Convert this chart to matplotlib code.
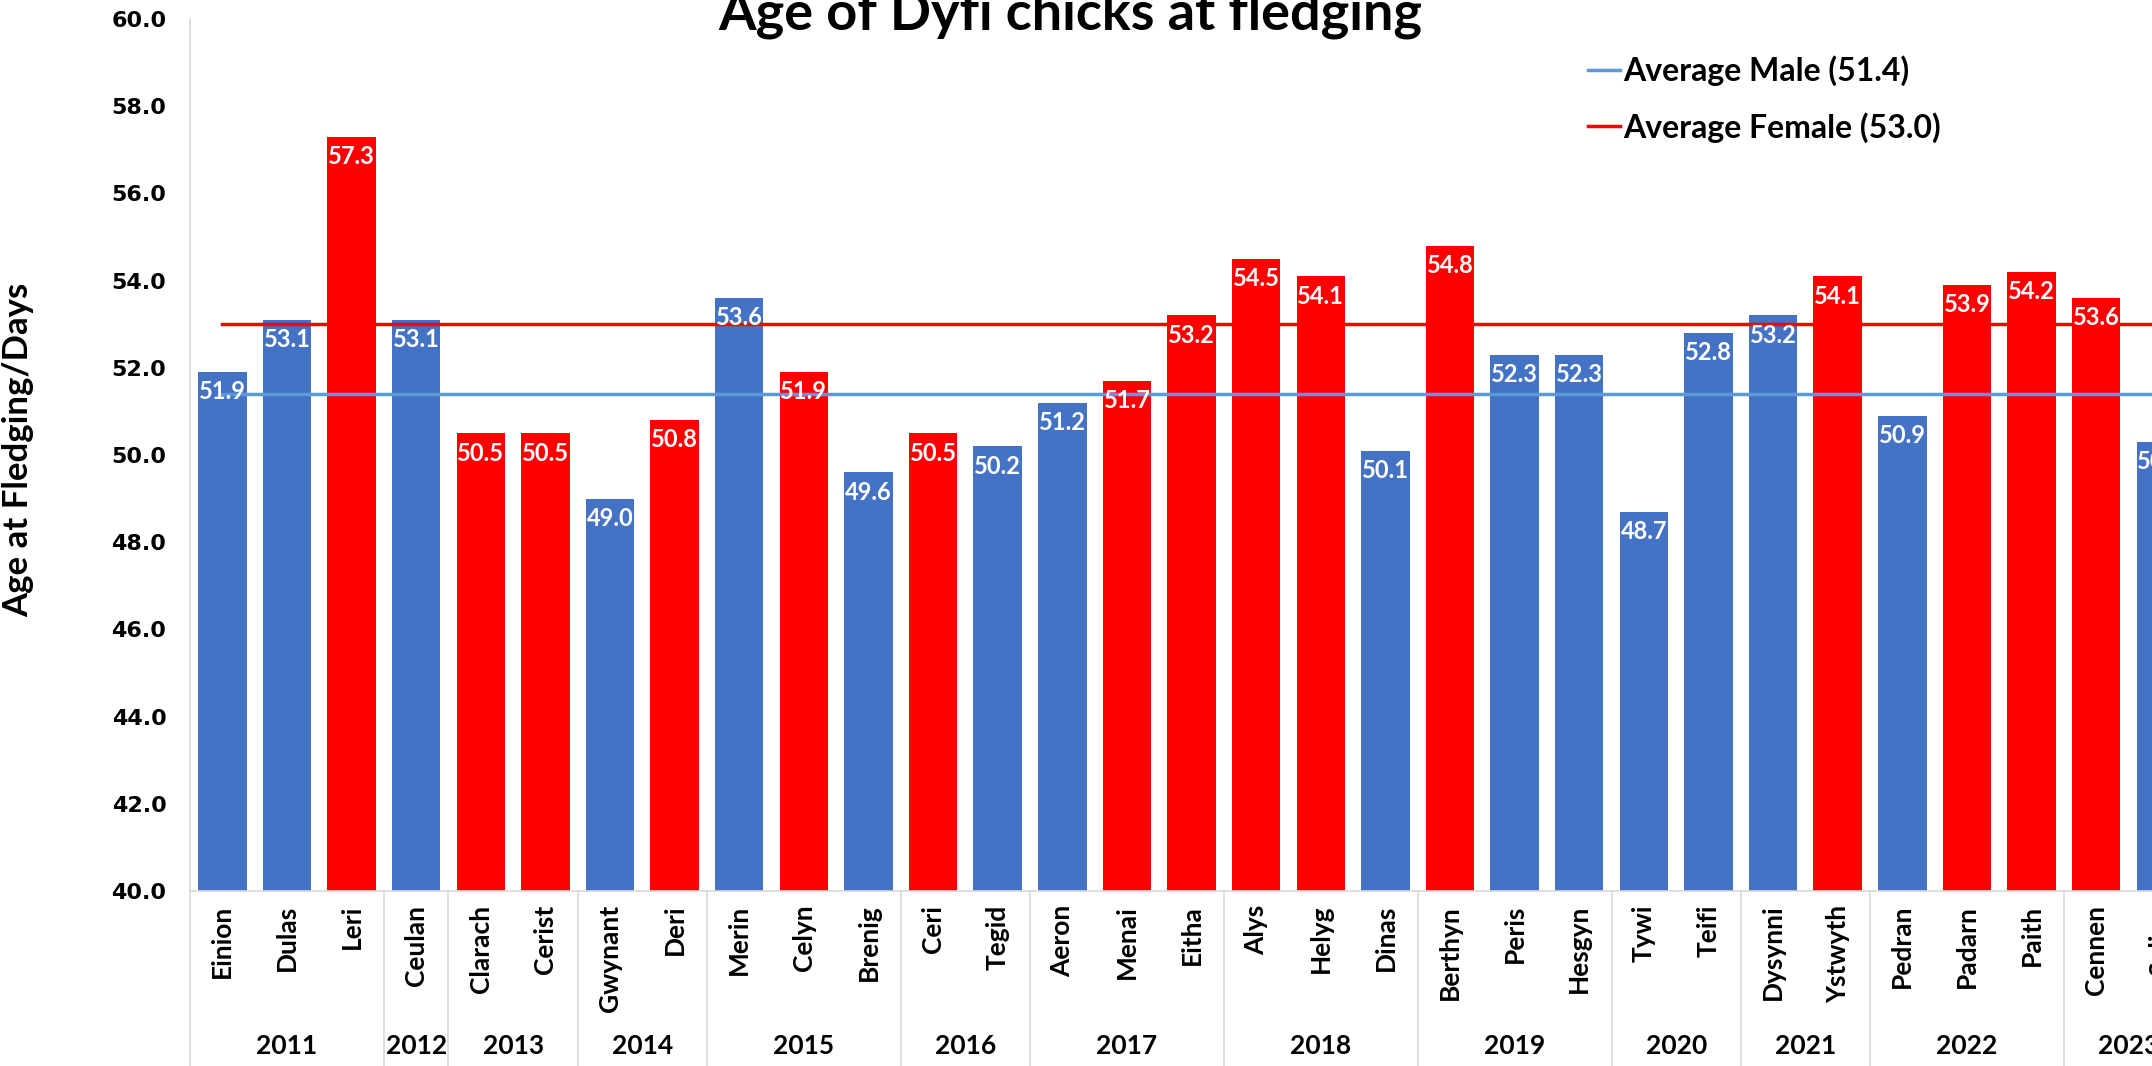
import numpy as np
import matplotlib
matplotlib.use('Agg')
import matplotlib.pyplot as plt
from matplotlib.lines import Line2D
import matplotlib.transforms as mtransforms

# Chick data
names = ['Einion', 'Dulas', 'Leri', 'Ceulan', 'Clarach', 'Cerist', 'Gwynant', 'Deri',
         'Merin', 'Celyn', 'Brenig', 'Ceri', 'Tegid', 'Aeron', 'Menai', 'Eitha',
         'Alys', 'Helyg', 'Dinas', 'Berthyn', 'Peris', 'Hesgyn', 'Tywi', 'Teifi',
         'Dysynni', 'Ystwyth', 'Pedran', 'Padarn', 'Paith', 'Cennen', 'Sulien']
years = ['2011', '2011', '2011', '2012', '2013', '2013', '2014', '2014',
         '2015', '2015', '2015', '2016', '2016', '2017', '2017', '2017',
         '2018', '2018', '2018', '2019', '2019', '2019', '2020', '2020',
         '2021', '2021', '2022', '2022', '2022', '2023', '2023']
ages = [51.9, 53.1, 57.3, 53.1, 50.5, 50.5, 49.0, 50.8,
        53.6, 51.9, 49.6, 50.5, 50.2, 51.2, 51.7, 53.2,
        54.5, 54.1, 50.1, 54.8, 52.3, 52.3, 48.7, 52.8,
        53.2, 54.1, 50.9, 53.9, 54.2, 53.6, 50.3]
sexes = ['M', 'M', 'F', 'M', 'F', 'F', 'M', 'F',
         'M', 'F', 'M', 'F', 'M', 'M', 'F', 'F',
         'F', 'F', 'M', 'F', 'M', 'M', 'M', 'M',
         'M', 'F', 'M', 'F', 'F', 'F', 'M']
avg_male = 51.4
avg_female = 53.0

# Styles
blue = '#4472C4'
red = '#FF0000'
line_blue = '#5B9BD5'
grey = '#D9D9D9'
font = 'Lato'

fig = plt.figure(figsize=(21.52, 10.66), dpi=100)
ax = fig.add_axes([0.0883, 0.1642, 0.9308, 0.818])

n = len(names)
x = np.arange(n)
colors = [blue if s == 'M' else red for s in sexes]
ax.bar(x, [a - 40 for a in ages], bottom=40, width=0.75, color=colors, zorder=2)

# Average lines, from first to last category centre
ax.plot([0, n - 1], [avg_male, avg_male], color=line_blue, lw=2.5, zorder=3)
ax.plot([0, n - 1], [avg_female, avg_female], color=red, lw=2.5, zorder=3)

# Value labels inside bar tops
for xi, a in zip(x, ages):
    ax.annotate(f'{a:.1f}', (xi, a), xytext=(0, -6), textcoords='offset points',
                ha='center', va='top', color='white', fontsize=17,
                fontweight='bold', family=font, zorder=5)

ax.set_xlim(-0.5, n - 0.5)
ax.set_ylim(40, 60)
ax.set_yticks(np.arange(40, 61, 2))
ax.set_yticklabels([f'{v:.1f}' for v in np.arange(40, 61, 2)],
                   fontsize=16, fontweight='bold', family='DejaVu Sans')
ax.tick_params(axis='y', length=0, pad=17)
ax.set_xticks(x)
ax.set_xticklabels(names, rotation=90, fontsize=19, fontweight='bold', family=font,
                   va='top', ha='center')
ax.tick_params(axis='x', length=0, pad=10)

for side in ['top', 'right']:
    ax.spines[side].set_visible(False)
for side in ['left', 'bottom']:
    ax.spines[side].set_color(grey)
    ax.spines[side].set_linewidth(1.2)

# Year groups below the axis
trans = mtransforms.blended_transform_factory(ax.transData, ax.transAxes)
bounds = [-0.5]
for i in range(1, n):
    if years[i] != years[i - 1]:
        bounds.append(i - 0.5)
bounds.append(n - 0.5)
for b in bounds:
    ax.plot([b, b], [0, -0.25], color=grey, lw=1.2, transform=trans, clip_on=False)
for lo, hi in zip(bounds[:-1], bounds[1:]):
    yr = years[int(lo + 0.5)]
    ax.text((lo + hi) / 2, -0.178, yr, transform=trans, ha='center', va='center',
            fontsize=19, fontweight='bold', family=font)

ax.set_ylabel('Age at Fledging/Days', fontsize=25, fontweight='bold', family=font)
ax.yaxis.set_label_coords(-0.078, 0.506)

fig.text(0.4975, 0.972, 'Age of Dyfi chicks at fledging', ha='center', va='baseline',
         fontsize=39, fontweight='bold', family=font)

handles = [Line2D([], [], color=line_blue, lw=2.5),
           Line2D([], [], color=red, lw=2.5)]
leg = ax.legend(handles, ['Average Male (51.4)', 'Average Female (53.0)'],
                loc='upper left', bbox_to_anchor=(0.738, 0.948),
                bbox_transform=fig.transFigure, frameon=False,
                handlelength=1.0, handletextpad=0.1, labelspacing=0.8,
                borderpad=0, borderaxespad=0,
                prop={'family': font, 'weight': 'bold', 'size': 23})

fig.savefig('out.png', dpi=100)
